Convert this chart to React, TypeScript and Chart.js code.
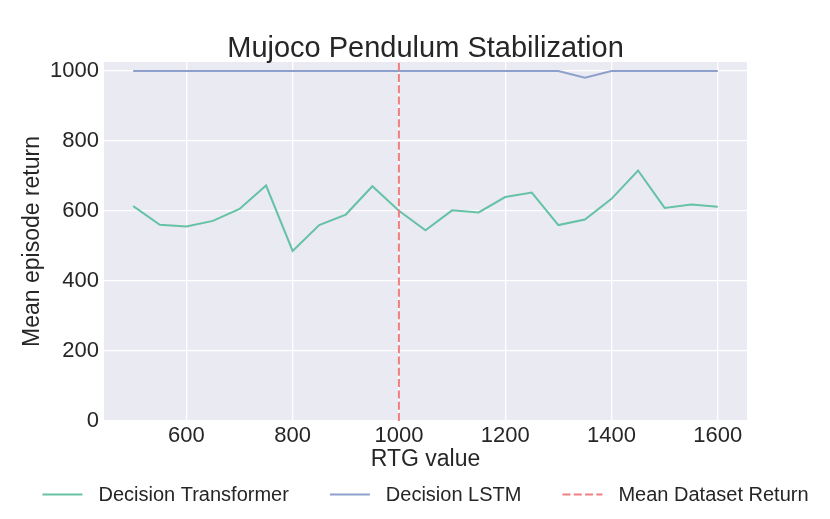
import { useEffect, useRef } from "react";
import { Chart, registerables } from "chart.js";

Chart.register(...registerables);

const chartTitle = "Mujoco Pendulum Stabilization";
const xLabel = "RTG value";
const yLabel = "Mean episode return";

const rtgValues = [
  500, 550, 600, 650, 700, 750, 800, 850, 900, 950, 1000, 1050, 1100, 1150,
  1200, 1250, 1300, 1350, 1400, 1450, 1500, 1550, 1600,
];
const decisionTransformer = [
  614, 561, 556, 572, 606, 673, 486, 560, 590, 671, 601, 545, 602, 596, 640,
  653, 560, 576, 635, 716, 609, 619, 612,
];
const decisionLstm = [
  1000, 1000, 1000, 1000, 1000, 1000, 1000, 1000, 1000, 1000, 1000, 1000, 1000,
  1000, 1000, 1000, 1000, 981, 1000, 1000, 1000, 1000, 1000,
];
const meanDatasetReturn = 1000;

const xTicks = [600, 800, 1000, 1200, 1400, 1600];
const yTicks = [0, 200, 400, 600, 800, 1000];
const xMin = 445;
const xMax = 1655;
const yMin = 0;
const yMax = 1026;

const FONT = "'Liberation Sans', Arial, sans-serif";
const TEXT = "#262626";

// grey plot panel like seaborn darkgrid
const plotBackground = {
  id: "plotBackground",
  beforeDraw(chart: any) {
    const { ctx, chartArea: a } = chart;
    ctx.save();
    ctx.fillStyle = "#eaeaf2";
    ctx.fillRect(a.left, a.top, a.right - a.left, a.bottom - a.top);
    ctx.restore();
  },
};

// title and legend centred on the plot area, not the canvas
const figureText = {
  id: "figureText",
  afterDraw(chart: any) {
    const { ctx, chartArea: a } = chart;
    const cx = (a.left + a.right) / 2;
    ctx.save();
    ctx.fillStyle = TEXT;
    ctx.font = `29px ${FONT}`;
    ctx.textAlign = "center";
    ctx.textBaseline = "alphabetic";
    ctx.fillText(chartTitle, cx, 57);

    ctx.font = `20px ${FONT}`;
    const lineW = 40;
    const textGap = 16;
    const itemGap = 41;
    const items = chart.data.datasets.map((ds: any) => ({
      label: ds.label,
      color: ds.borderColor,
      dash: ds.borderDash || [],
      w: ctx.measureText(ds.label).width,
    }));
    const total =
      items.reduce((s: number, it: any) => s + lineW + textGap + it.w, 0) +
      itemGap * (items.length - 1);
    let x = cx - total / 2;
    const y = 494.5;
    ctx.textAlign = "left";
    ctx.textBaseline = "middle";
    items.forEach((it: any) => {
      ctx.strokeStyle = it.color;
      ctx.lineWidth = 2;
      ctx.setLineDash(it.dash);
      ctx.beginPath();
      ctx.moveTo(x, y);
      ctx.lineTo(x + lineW, y);
      ctx.stroke();
      ctx.setLineDash([]);
      ctx.fillText(it.label, x + lineW + textGap, y + 1);
      x += lineW + textGap + it.w + itemGap;
    });
    ctx.restore();
  },
};

export default function App() {
  const chartRef = useRef<HTMLCanvasElement>(null);
  const chartInstance = useRef<Chart | null>(null);

  useEffect(() => {
    if (!chartRef.current) return;
    if (chartInstance.current) chartInstance.current.destroy();

    chartInstance.current = new Chart(chartRef.current, {
      type: "line",
      data: {
        datasets: [
          {
            label: "Decision Transformer",
            data: rtgValues.map((v, i) => ({ x: v, y: decisionTransformer[i] })),
            borderColor: "#66c2a5",
            backgroundColor: "#66c2a5",
            borderWidth: 2,
            pointRadius: 0,
            tension: 0,
            order: 2,
          },
          {
            label: "Decision LSTM",
            data: rtgValues.map((v, i) => ({ x: v, y: decisionLstm[i] })),
            borderColor: "#8da0cb",
            backgroundColor: "#8da0cb",
            borderWidth: 2,
            pointRadius: 0,
            tension: 0,
            order: 1,
          },
          {
            label: "Mean Dataset Return",
            data: [
              { x: meanDatasetReturn, y: yMin },
              { x: meanDatasetReturn, y: yMax },
            ],
            borderColor: "#f08080",
            backgroundColor: "#f08080",
            borderWidth: 2,
            borderDash: [8, 3.3],
            pointRadius: 0,
            order: 0,
          },
        ],
      },
      options: {
        responsive: false,
        animation: false,
        layout: { padding: { top: 62, left: 0, right: 83, bottom: 44 } },
        plugins: {
          legend: { display: false },
          title: { display: false },
          tooltip: { enabled: false },
        },
        scales: {
          x: {
            type: "linear",
            min: xMin,
            max: xMax,
            afterBuildTicks: (s: any) => {
              s.ticks = xTicks.map((v) => ({ value: v }));
            },
            afterFit: (s: any) => {
              s.height = 54;
            },
            grid: { color: "#ffffff", lineWidth: 1.3, drawTicks: false },
            border: { display: false },
            ticks: {
              color: TEXT,
              padding: 2,
              font: { family: FONT, size: 22 },
              maxRotation: 0,
              autoSkip: false,
              callback: (v: any) => String(v),
            },
            title: {
              display: true,
              text: xLabel,
              color: TEXT,
              font: { family: FONT, size: 23 },
              padding: { top: 0, bottom: 2 },
            },
          },
          y: {
            type: "linear",
            min: yMin,
            max: yMax,
            afterBuildTicks: (s: any) => {
              s.ticks = yTicks.map((v) => ({ value: v }));
            },
            afterFit: (s: any) => {
              s.width = 104;
            },
            grid: { color: "#ffffff", lineWidth: 1.3, drawTicks: false },
            border: { display: false },
            ticks: {
              color: TEXT,
              padding: 5,
              font: { family: FONT, size: 22 },
              autoSkip: false,
              callback: (v: any) => String(v),
            },
            title: {
              display: true,
              text: yLabel,
              color: TEXT,
              font: { family: FONT, size: 23 },
              padding: { top: 19, bottom: 0 },
            },
          },
        },
      },
      plugins: [plotBackground, figureText],
    });

    return () => {
      if (chartInstance.current) {
        chartInstance.current.destroy();
        chartInstance.current = null;
      }
    };
  }, []);

  return (
    <div style={{ position: "absolute", left: 0, top: 0, width: 830, height: 519 }}>
      <canvas ref={chartRef} width={830} height={519}></canvas>
    </div>
  );
}
